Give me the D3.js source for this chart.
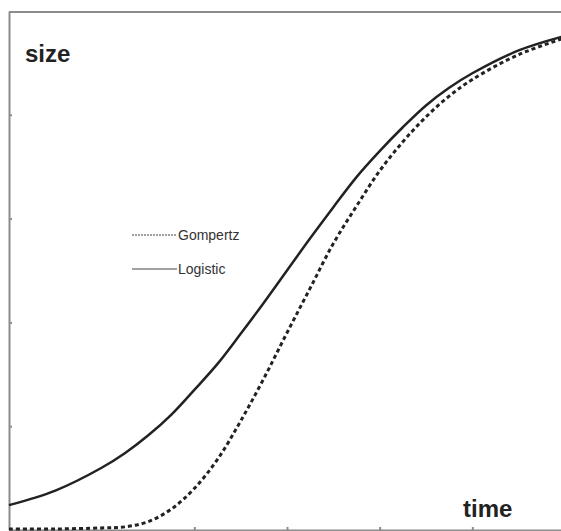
<!DOCTYPE html>
<html>
<head>
<meta charset="utf-8">
<script src="https://cdn.jsdelivr.net/npm/d3@7"></script>
<style>
  body { margin: 0; background: #fff; }
  svg { display: block; }
  .frame path.domain, .frame line { stroke: #8c8c8c; stroke-width: 2; }
  .axis-title { font-family: "Liberation Sans", Arial, sans-serif; font-weight: bold; font-size: 24px; fill: #222; }
  .legend text { font-family: "Liberation Sans", Arial, sans-serif; font-size: 14px; fill: #333; }
</style>
</head>
<body>
<svg width="561" height="531"></svg>
<script>
// values (time 0..6, size 0..5)
var time = [0, 0.5, 1, 1.25, 1.5, 1.75, 2, 2.25, 2.5, 2.75, 3, 3.25, 3.5, 3.75, 4, 4.25, 4.5, 4.75, 5, 5.5, 6];
var logistic = [0.24, 0.38, 0.6, 0.74, 0.91, 1.11, 1.35, 1.6, 1.89, 2.19, 2.5, 2.81, 3.11, 3.4, 3.65, 3.88, 4.09, 4.26, 4.4, 4.62, 4.76];
var gompertz = [0.01, 0.01, 0.02, 0.03, 0.08, 0.2, 0.4, 0.68, 1.05, 1.46, 1.9, 2.33, 2.76, 3.12, 3.46, 3.74, 3.98, 4.18, 4.34, 4.58, 4.74];
var xTicks = [1, 2, 3, 4, 5];
var yTicks = [1, 2, 3, 4];
var seriesNames = ["Gompertz", "Logistic"];

const svg = d3.select('svg');
const width = +svg.attr('width');
const height = +svg.attr('height');

const xScale = d3.scaleLinear().domain([0, 6]).range([9, 565]);
const yScale = d3.scaleLinear().domain([0, 5]).range([530, 11]);

// frame: top border, left and bottom axes with small inward ticks
svg.append('line')
    .attr('x1', 9).attr('x2', width)
    .attr('y1', yScale(5) + 1).attr('y2', yScale(5) + 1)
    .attr('stroke', '#8c8c8c').attr('stroke-width', 2);

svg.append('g')
    .attr('class', 'frame')
    .attr('transform', `translate(${xScale(0)},0)`)
    .call(d3.axisRight(yScale).tickValues(yTicks).tickSize(3).tickSizeOuter(0).tickFormat(''));

svg.append('g')
    .attr('class', 'frame')
    .attr('transform', `translate(0,${yScale(0)})`)
    .call(d3.axisTop(xScale).tickValues(xTicks).tickSize(3).tickSizeOuter(0).tickFormat(''));

// curves
const line = d3.line()
    .x((d, i) => xScale(time[i]))
    .y(d => yScale(d))
    .curve(d3.curveCatmullRom.alpha(0.5));

svg.append('path')
    .datum(gompertz)
    .attr('d', line)
    .attr('fill', 'none')
    .attr('stroke', '#222')
    .attr('stroke-width', 3)
    .attr('stroke-dasharray', '4,3');

svg.append('path')
    .datum(logistic)
    .attr('d', line)
    .attr('fill', 'none')
    .attr('stroke', '#222')
    .attr('stroke-width', 2.5);

// axis titles
svg.append('text').attr('class', 'axis-title').attr('x', 25).attr('y', 62).text('size');
svg.append('text').attr('class', 'axis-title').attr('x', 463).attr('y', 517).text('time');

// legend
const legend = svg.append('g').attr('class', 'legend');
seriesNames.forEach(function (name, i) {
    var y = 235 + i * 34;
    legend.append('line')
        .attr('x1', 132).attr('x2', 177)
        .attr('y1', y).attr('y2', y)
        .attr('stroke', '#444')
        .attr('stroke-width', 1.2)
        .attr('stroke-dasharray', i == 0 ? '2,1' : null);
    legend.append('text')
        .attr('x', 178).attr('y', y + 5)
        .text(name);
});
</script>
</body>
</html>
